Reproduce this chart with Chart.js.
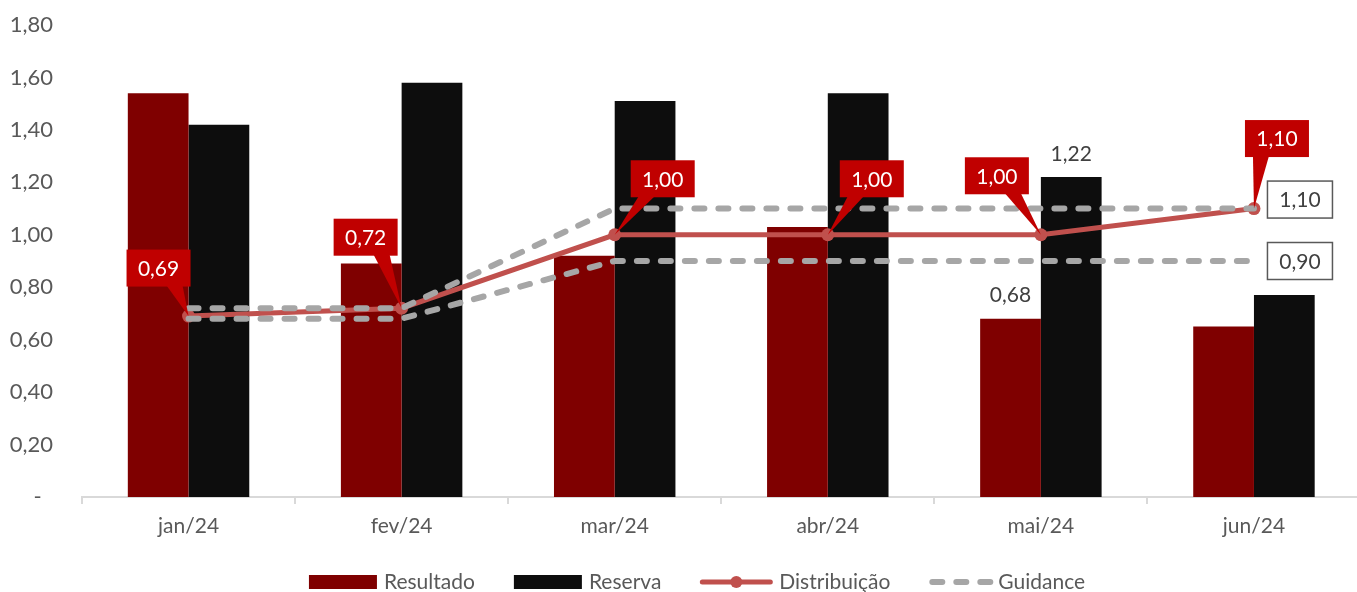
<!DOCTYPE html>
<html>
<head>
<meta charset="utf-8">
<script src="https://cdn.jsdelivr.net/npm/chart.js@4.4.1/dist/chart.umd.min.js"></script>
<style>
  html, body { margin: 0; padding: 0; background: #ffffff; overflow: hidden; }
  #wrap { position: relative; width: 1367px; height: 592px; }
</style>
</head>
<body>
<div id="wrap"><canvas id="c"></canvas></div>
<script>
// ---- data ----
const months = ['jan/24', 'fev/24', 'mar/24', 'abr/24', 'mai/24', 'jun/24'];
const resultado = [1.54, 0.89, 0.92, 1.03, 0.68, 0.65];
const reserva = [1.42, 1.58, 1.51, 1.54, 1.22, 0.77];
const distribuicao = [0.69, 0.72, 1.00, 1.00, 1.00, 1.10];
const guidanceTeto = [0.72, 0.72, 1.10, 1.10, 1.10, 1.10];
const guidancePiso = [0.68, 0.68, 0.90, 0.90, 0.90, 0.90];
const yTickLabels = ['-  ', '0,20', '0,40', '0,60', '0,80', '1,00', '1,20', '1,40', '1,60', '1,80'];
const barLabelMonth = 'mai/24';

// ---- styling ----
const FONT_FAMILY = 'Lato, "Open Sans", sans-serif';
const FONT_SIZE = 21;
const TEXT_GREY = '#595959';
const COLORS = {
  resultado: '#7F0000',
  reserva: '#0D0D0D',
  distribuicao: '#C0504D',
  callout: '#C00000',
  guidance: '#A6A6A6'
};
// callout box centre, relative to its point
const calloutOffsets = [[-30, -48], [-36, -71], [48, -56], [44, -56], [-44, -59], [23, -70]];

const fmt = v => v.toFixed(2).replace('.', ',');

const valueLabels = {
  id: 'valueLabels',
  afterDatasetsDraw(chart) {
    const ctx = chart.ctx;
    ctx.save();
    ctx.font = `${FONT_SIZE}px ${FONT_FAMILY}`;
    ctx.textAlign = 'center';
    ctx.textBaseline = 'middle';

    // red callouts on the Distribuição line
    const dMeta = chart.getDatasetMeta(2);
    dMeta.data.forEach((pt, i) => {
      const [dx, dy] = calloutOffsets[i];
      const w = 64, h = 37;
      const cx = pt.x + dx, cy = pt.y + dy;
      const l = cx - w / 2, t = cy - h / 2, r = cx + w / 2, b = cy + h / 2;
      const bx = Math.min(Math.max(pt.x, l + 16), r - 16);
      ctx.fillStyle = COLORS.callout;
      ctx.beginPath();
      ctx.moveTo(bx - 8, b - 1);
      ctx.lineTo(pt.x, pt.y);
      ctx.lineTo(bx + 8, b - 1);
      ctx.closePath();
      ctx.fill();
      ctx.fillRect(l, t, w, h);
      ctx.fillStyle = '#FFFFFF';
      ctx.fillText(fmt(distribuicao[i]), cx, cy + 1);
    });

    // boxed labels at the end of each guidance line
    const last = months.length - 1;
    [[3, guidanceTeto, -9], [4, guidancePiso, 0]].forEach(([idx, arr, shift]) => {
      const pt = chart.getDatasetMeta(idx).data[last];
      const w = 65, h = 37;
      const cx = pt.x + 46, cy = pt.y + shift;
      ctx.fillStyle = '#FFFFFF';
      ctx.fillRect(cx - w / 2, cy - h / 2, w, h);
      ctx.strokeStyle = '#595959';
      ctx.lineWidth = 1.5;
      ctx.strokeRect(cx - w / 2, cy - h / 2, w, h);
      ctx.fillStyle = '#404040';
      ctx.fillText(fmt(arr[last]), cx, cy + 1);
    });

    // plain value labels above the bars of one month
    const mi = months.indexOf(barLabelMonth);
    [[0, resultado], [1, reserva]].forEach(([idx, arr]) => {
      const bar = chart.getDatasetMeta(idx).data[mi];
      ctx.fillStyle = '#404040';
      ctx.fillText(fmt(arr[mi]), bar.x, bar.y - 23);
    });
    ctx.restore();
  }
};

const bottomLegend = {
  id: 'bottomLegend',
  afterDraw(chart) {
    const ctx = chart.ctx;
    ctx.save();
    ctx.font = `${FONT_SIZE}px ${FONT_FAMILY}`;
    ctx.textBaseline = 'middle';
    ctx.textAlign = 'left';
    const items = [
      { text: 'Resultado', kind: 'box', color: COLORS.resultado, sw: 68 },
      { text: 'Reserva', kind: 'box', color: COLORS.reserva, sw: 68 },
      { text: 'Distribuição', kind: 'line', color: COLORS.distribuicao, sw: 72 },
      { text: 'Guidance', kind: 'dash', color: COLORS.guidance, sw: 62 }
    ];
    const gapText = 7, gapItem = 39;
    let total = 0;
    items.forEach((it, i) => {
      it.tw = ctx.measureText(it.text).width;
      total += it.sw + gapText + it.tw + (i < items.length - 1 ? gapItem : 0);
    });
    let x = 697 - total / 2;
    const y = 582;
    items.forEach(it => {
      if (it.kind === 'box') {
        ctx.fillStyle = it.color;
        ctx.fillRect(x, y - 7, it.sw, 14);
      } else if (it.kind === 'line') {
        ctx.strokeStyle = it.color;
        ctx.lineWidth = 5;
        ctx.lineCap = 'round';
        ctx.beginPath();
        ctx.moveTo(x + 2, y); ctx.lineTo(x + it.sw - 2, y);
        ctx.stroke();
        ctx.fillStyle = it.color;
        ctx.beginPath();
        ctx.arc(x + it.sw / 2, y, 6, 0, Math.PI * 2);
        ctx.fill();
      } else {
        ctx.strokeStyle = it.color;
        ctx.lineWidth = 6;
        ctx.lineCap = 'round';
        ctx.setLineDash([10, 14]);
        ctx.beginPath();
        ctx.moveTo(x + 3, y); ctx.lineTo(x + it.sw, y);
        ctx.stroke();
        ctx.setLineDash([]);
      }
      x += it.sw + gapText;
      ctx.fillStyle = TEXT_GREY;
      ctx.fillText(it.text, x, y);
      x += it.tw + gapItem;
    });
    ctx.restore();
  }
};

const tickFont = { family: FONT_FAMILY, size: FONT_SIZE };

new Chart(document.getElementById('c'), {
  type: 'bar',
  data: {
    labels: months,
    datasets: [
      { label: 'Resultado', data: resultado, backgroundColor: COLORS.resultado,
        barPercentage: 1, categoryPercentage: 0.57, order: 3 },
      { label: 'Reserva', data: reserva, backgroundColor: COLORS.reserva,
        barPercentage: 1, categoryPercentage: 0.57, order: 3 },
      { type: 'line', label: 'Distribuição', data: distribuicao,
        borderColor: COLORS.distribuicao, backgroundColor: COLORS.distribuicao,
        borderWidth: 5, pointRadius: 6.5, pointHoverRadius: 6.5, pointBorderWidth: 0,
        pointBackgroundColor: COLORS.distribuicao, tension: 0, order: 2 },
      { type: 'line', label: 'Guidance', data: guidanceTeto,
        borderColor: COLORS.guidance, borderWidth: 6, borderDash: [10, 14],
        borderCapStyle: 'round', pointRadius: 0, tension: 0, order: 1 },
      { type: 'line', label: 'Guidance', data: guidancePiso,
        borderColor: COLORS.guidance, borderWidth: 6, borderDash: [10, 14],
        borderCapStyle: 'round', pointRadius: 0, tension: 0, order: 1 }
    ]
  },
  options: {
    responsive: true,
    maintainAspectRatio: false,
    animation: false,
    devicePixelRatio: 1,
    layout: { padding: { top: 25, left: 0, right: 0, bottom: 0 } },
    plugins: { legend: { display: false }, tooltip: { enabled: false } },
    scales: {
      x: {
        grid: { offset: true, drawOnChartArea: false, color: '#D9D9D9', tickLength: 7, lineWidth: 2 },
        border: { color: '#D9D9D9', width: 2 },
        ticks: { color: TEXT_GREY, font: tickFont, padding: 10, maxRotation: 0 },
        afterFit(s) { s.height = 95; }
      },
      y: {
        min: 0, max: 1.8,
        grid: { display: false, drawTicks: false },
        border: { display: false },
        ticks: { stepSize: 0.2, color: TEXT_GREY, font: { family: FONT_FAMILY, size: 22 }, padding: 29,
                 callback: (v, i) => yTickLabels[i] },
        afterFit(s) { s.width = 82; s.paddingTop = 0; s.paddingBottom = 0; }
      }
    }
  },
  plugins: [valueLabels, bottomLegend]
});
</script>
</body>
</html>
